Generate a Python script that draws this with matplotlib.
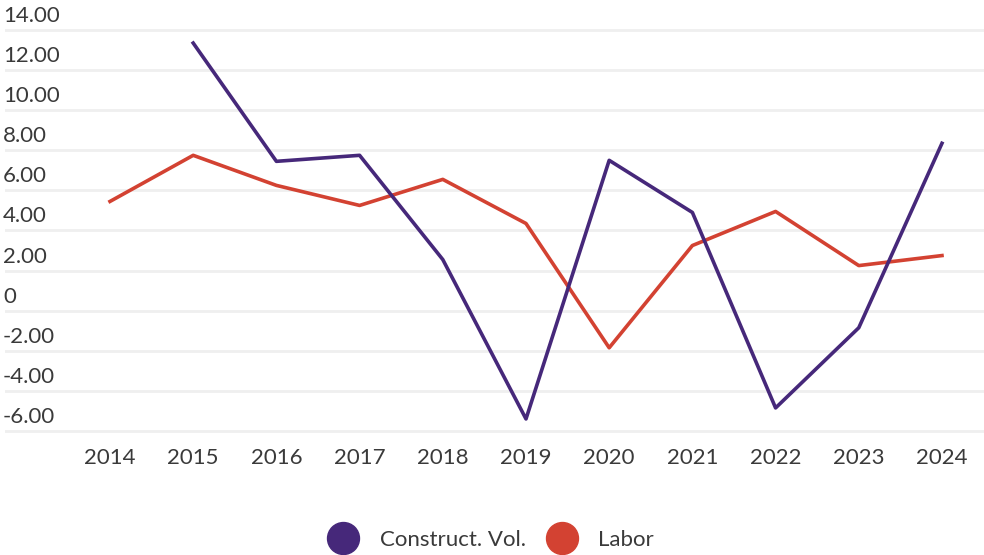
import matplotlib
matplotlib.use('Agg')
from matplotlib import pyplot as plt
from matplotlib.lines import Line2D
from matplotlib.transforms import blended_transform_factory, offset_copy

plt.rcParams['font.family'] = ['Lato', 'DejaVu Sans']

# data
years = [2014, 2015, 2016, 2017, 2018, 2019, 2020, 2021, 2022, 2023, 2024]
construct_years = years[1:]
construct_vol = [13.35, 7.45, 7.75, 2.55, -5.4, 7.5, 4.9, -4.85, -0.85, 8.35]
labor = [5.45, 7.75, 6.25, 5.25, 6.55, 4.35, -1.85, 3.25, 4.95, 2.25, 2.75]
ytick_vals = [14, 12, 10, 8, 6, 4, 2, 0, -2, -4, -6]
ytick_labels = ['14.00', '12.00', '10.00', '8.00', '6.00', '4.00', '2.00', '0',
                '-2.00', '-4.00', '-6.00']

purple = '#46287a'
red = '#d34232'
text_col = '#3a3a3a'

fig = plt.figure(figsize=(9.84, 5.55), dpi=100)
ax = fig.add_axes([5/984, 114/555, 979/984, 421/555])
ax.set_xlim(2012.738, 2024.505)
ax.set_ylim(-6.5, 14.5)

# gridlines
for v in ytick_vals:
    ax.axhline(v, color='#efefef', lw=2, zorder=0)

ax.plot(construct_years, construct_vol, color=purple, lw=2.6, zorder=3)
ax.plot(years, labor, color=red, lw=2.6, zorder=2)

# y labels sit above their gridline, left aligned
tr = offset_copy(blended_transform_factory(ax.transAxes, ax.transData),
                 fig=fig, x=-2, y=8, units='dots')
for v, lab in zip(ytick_vals, ytick_labels):
    ax.text(0, v, lab, transform=tr, ha='left', va='baseline',
            fontsize=16, color=text_col)

ax.set_yticks([])
ax.set_xticks(years)
ax.set_xticklabels([str(y) for y in years], fontsize=16, color=text_col)
ax.tick_params(axis='x', length=0, pad=5)
for s in ax.spines.values():
    s.set_visible(False)

handles = [Line2D([], [], ls='none', marker='o', markersize=23, color=purple),
           Line2D([], [], ls='none', marker='o', markersize=23, color=red)]
fig.legend(handles, ['Construct. Vol.', 'Labor'], loc='center',
           bbox_to_anchor=(0.5, 1 - 540/555), ncol=2, frameon=False,
           fontsize=16, labelcolor=text_col, handletextpad=1.05,
           columnspacing=1.0, handlelength=1.2)

fig.savefig('out.png', dpi=100)
